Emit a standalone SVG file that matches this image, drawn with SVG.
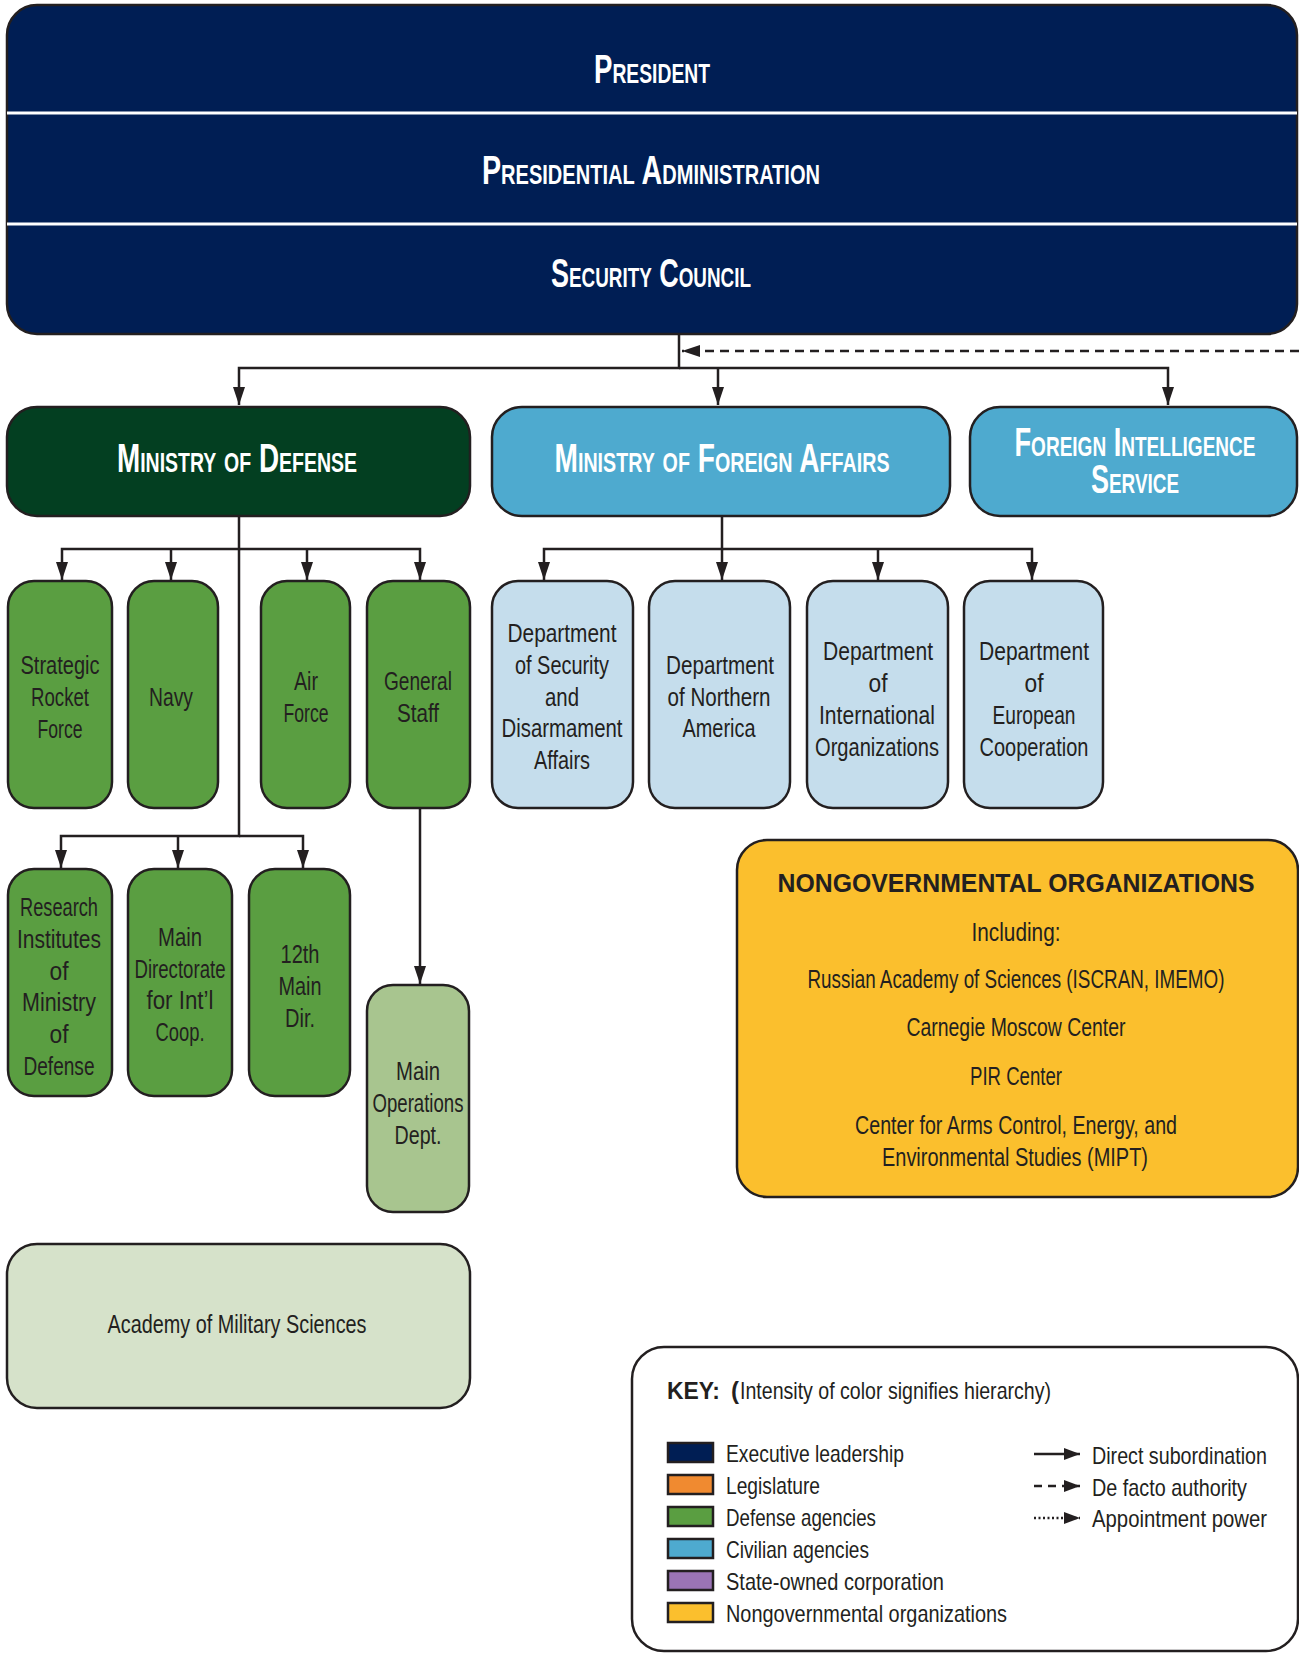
<svg xmlns="http://www.w3.org/2000/svg" width="1299" height="1653" viewBox="0 0 1299 1653">
<style>
.box{stroke:#231F20;stroke-width:2.5}
.exec{fill:#001E54}
.mod{fill:#033F21}
.civ{fill:#4EAACF}
.def{fill:#5A9E41}
.dept{fill:#C5DDEC}
.ops{fill:#A8C58F}
.acad{fill:#D6E2CA}
.ngo{fill:#FBBF2D}
.t{font-family:"Liberation Sans Narrow","Liberation Sans",Arial,sans-serif;font-size:25px;fill:#231F20;text-anchor:middle}
.k{font-family:"Liberation Sans Narrow","Liberation Sans",Arial,sans-serif;font-size:24px;fill:#231F20}
.kb{font-family:"Liberation Sans",Arial,sans-serif;font-size:24px;font-weight:bold;fill:#231F20}
.h{font-family:"Liberation Sans Narrow","Liberation Sans",Arial,sans-serif;font-weight:bold;font-size:40px;font-variant:small-caps;fill:#FFFFFF;text-anchor:middle}
.c{fill:none;stroke:#231F20;stroke-width:2.5}
.sw{stroke:#231F20;stroke-width:2.5}
</style>
<defs>
<marker id="arr" markerUnits="userSpaceOnUse" markerWidth="18" markerHeight="12" viewBox="0 0 18 12" refX="18" refY="6" orient="auto">
<path d="M0,0 L18,6 L0,12 z" fill="#231F20"/>
</marker>
<marker id="arrk" markerUnits="userSpaceOnUse" markerWidth="16" markerHeight="12" viewBox="0 0 16 12" refX="16" refY="6" orient="auto">
<path d="M0,0 L16,6 L0,12 z" fill="#231F20"/>
</marker>
</defs>

<g id="executive">
<rect class="box exec" x="7" y="5" width="1290" height="329" rx="30"/>
<line x1="7" y1="113" x2="1297" y2="113" stroke="#FFFFFF" stroke-width="3"/>
<line x1="7" y1="224" x2="1297" y2="224" stroke="#FFFFFF" stroke-width="3"/>
</g>
<g id="president">
<text class="h" x="652" y="83" textLength="116" lengthAdjust="spacingAndGlyphs">President</text>
</g>
<g id="presidential-administration">
<text class="h" x="651" y="184" textLength="338" lengthAdjust="spacingAndGlyphs">Presidential Administration</text>
</g>
<g id="security-council">
<text class="h" x="651" y="287" textLength="200" lengthAdjust="spacingAndGlyphs">Security Council</text>
</g>

<g id="connectors">
<path class="c" d="M679,334 V368 H239 V405" marker-end="url(#arr)"/>
<path class="c" d="M679,368 H1168 V405" marker-end="url(#arr)"/>
<path class="c" d="M718,368 V405" marker-end="url(#arr)"/>
<path class="c" d="M1299,351 H682" stroke-dasharray="9 6" marker-end="url(#arr)"/>
<path class="c" d="M239,516 V549 H62 V580" marker-end="url(#arr)"/>
<path class="c" d="M171,549 V580" marker-end="url(#arr)"/>
<path class="c" d="M239,549 H420 V580" marker-end="url(#arr)"/>
<path class="c" d="M307,549 V580" marker-end="url(#arr)"/>
<path class="c" d="M239,549 V836 H61 V868" marker-end="url(#arr)"/>
<path class="c" d="M239,836 H303 V868" marker-end="url(#arr)"/>
<path class="c" d="M178,836 V868" marker-end="url(#arr)"/>
<path class="c" d="M420,808 V984" marker-end="url(#arr)"/>
<path class="c" d="M722,516 V549 H544 V580" marker-end="url(#arr)"/>
<path class="c" d="M722,549 H1032 V580" marker-end="url(#arr)"/>
<path class="c" d="M722,549 V580" marker-end="url(#arr)"/>
<path class="c" d="M878,549 V580" marker-end="url(#arr)"/>
</g>

<g id="ministry-of-defense">
<rect class="box mod" x="7" y="407" width="463" height="109" rx="30"/>
<text class="h" x="237" y="472" textLength="240" lengthAdjust="spacingAndGlyphs">Ministry of Defense</text>
</g>
<g id="ministry-of-foreign-affairs">
<rect class="box civ" x="492" y="407" width="458" height="109" rx="30"/>
<text class="h" x="722" y="472" textLength="335" lengthAdjust="spacingAndGlyphs">Ministry of Foreign Affairs</text>
</g>
<g id="foreign-intelligence-service">
<rect class="box civ" x="970" y="407" width="327" height="109" rx="30"/>
<text class="h" x="1135" y="456" textLength="241" lengthAdjust="spacingAndGlyphs">Foreign Intelligence</text>
<text class="h" x="1135" y="493" textLength="88" lengthAdjust="spacingAndGlyphs">Service</text>
</g>

<g id="strategic-rocket-force">
<rect class="box def" x="8" y="581" width="104" height="227" rx="26"/>
<text class="t" x="60" y="674" textLength="79" lengthAdjust="spacingAndGlyphs">Strategic</text>
<text class="t" x="60" y="706" textLength="58" lengthAdjust="spacingAndGlyphs">Rocket</text>
<text class="t" x="60" y="738" textLength="45" lengthAdjust="spacingAndGlyphs">Force</text>
</g>
<g id="navy">
<rect class="box def" x="128" y="581" width="90" height="227" rx="26"/>
<text class="t" x="171" y="706" textLength="44" lengthAdjust="spacingAndGlyphs">Navy</text>
</g>
<g id="air-force">
<rect class="box def" x="261" y="581" width="89" height="227" rx="26"/>
<text class="t" x="306" y="690" textLength="24" lengthAdjust="spacingAndGlyphs">Air</text>
<text class="t" x="306" y="722" textLength="45" lengthAdjust="spacingAndGlyphs">Force</text>
</g>
<g id="general-staff">
<rect class="box def" x="367" y="581" width="103" height="227" rx="26"/>
<text class="t" x="418" y="690" textLength="68" lengthAdjust="spacingAndGlyphs">General</text>
<text class="t" x="418" y="722" textLength="42" lengthAdjust="spacingAndGlyphs">Staff</text>
</g>

<g id="dept-security-disarmament">
<rect class="box dept" x="492" y="581" width="141" height="227" rx="26"/>
<text class="t" x="562" y="642" textLength="109" lengthAdjust="spacingAndGlyphs">Department</text>
<text class="t" x="562" y="674" textLength="94" lengthAdjust="spacingAndGlyphs">of Security</text>
<text class="t" x="562" y="706" textLength="34" lengthAdjust="spacingAndGlyphs">and</text>
<text class="t" x="562" y="737" textLength="121" lengthAdjust="spacingAndGlyphs">Disarmament</text>
<text class="t" x="562" y="769" textLength="56" lengthAdjust="spacingAndGlyphs">Affairs</text>
</g>
<g id="dept-northern-america">
<rect class="box dept" x="649" y="581" width="141" height="227" rx="26"/>
<text class="t" x="720" y="674" textLength="108" lengthAdjust="spacingAndGlyphs">Department</text>
<text class="t" x="719" y="706" textLength="103" lengthAdjust="spacingAndGlyphs">of Northern</text>
<text class="t" x="719" y="737" textLength="73" lengthAdjust="spacingAndGlyphs">America</text>
</g>
<g id="dept-international-organizations">
<rect class="box dept" x="807" y="581" width="141" height="227" rx="26"/>
<text class="t" x="878" y="660" textLength="110" lengthAdjust="spacingAndGlyphs">Department</text>
<text class="t" x="878" y="692" textLength="19" lengthAdjust="spacingAndGlyphs">of</text>
<text class="t" x="877" y="724" textLength="116" lengthAdjust="spacingAndGlyphs">International</text>
<text class="t" x="877" y="756" textLength="124" lengthAdjust="spacingAndGlyphs">Organizations</text>
</g>
<g id="dept-european-cooperation">
<rect class="box dept" x="964" y="581" width="139" height="227" rx="26"/>
<text class="t" x="1034" y="660" textLength="110" lengthAdjust="spacingAndGlyphs">Department</text>
<text class="t" x="1034" y="692" textLength="19" lengthAdjust="spacingAndGlyphs">of</text>
<text class="t" x="1034" y="724" textLength="83" lengthAdjust="spacingAndGlyphs">European</text>
<text class="t" x="1034" y="756" textLength="109" lengthAdjust="spacingAndGlyphs">Cooperation</text>
</g>

<g id="research-institutes">
<rect class="box def" x="8" y="869" width="104" height="227" rx="26"/>
<text class="t" x="59" y="916" textLength="78" lengthAdjust="spacingAndGlyphs">Research</text>
<text class="t" x="59" y="948" textLength="84" lengthAdjust="spacingAndGlyphs">Institutes</text>
<text class="t" x="59" y="980" textLength="19" lengthAdjust="spacingAndGlyphs">of</text>
<text class="t" x="59" y="1011" textLength="74" lengthAdjust="spacingAndGlyphs">Ministry</text>
<text class="t" x="59" y="1043" textLength="19" lengthAdjust="spacingAndGlyphs">of</text>
<text class="t" x="59" y="1075" textLength="71" lengthAdjust="spacingAndGlyphs">Defense</text>
</g>
<g id="main-directorate-intl-coop">
<rect class="box def" x="128" y="869" width="104" height="227" rx="26"/>
<text class="t" x="180" y="946" textLength="44" lengthAdjust="spacingAndGlyphs">Main</text>
<text class="t" x="180" y="978" textLength="91" lengthAdjust="spacingAndGlyphs">Directorate</text>
<text class="t" x="180" y="1009" textLength="67" lengthAdjust="spacingAndGlyphs">for Int’l</text>
<text class="t" x="180" y="1041" textLength="49" lengthAdjust="spacingAndGlyphs">Coop.</text>
</g>
<g id="twelfth-main-dir">
<rect class="box def" x="249" y="869" width="101" height="227" rx="26"/>
<text class="t" x="300" y="963" textLength="39" lengthAdjust="spacingAndGlyphs">12th</text>
<text class="t" x="300" y="995" textLength="43" lengthAdjust="spacingAndGlyphs">Main</text>
<text class="t" x="300" y="1027" textLength="30" lengthAdjust="spacingAndGlyphs">Dir.</text>
</g>
<g id="main-operations-dept">
<rect class="box ops" x="367" y="985" width="102" height="227" rx="26"/>
<text class="t" x="418" y="1080" textLength="44" lengthAdjust="spacingAndGlyphs">Main</text>
<text class="t" x="418" y="1112" textLength="91" lengthAdjust="spacingAndGlyphs">Operations</text>
<text class="t" x="418" y="1144" textLength="47" lengthAdjust="spacingAndGlyphs">Dept.</text>
</g>
<g id="academy-military-sciences">
<rect class="box acad" x="7" y="1244" width="463" height="164" rx="30"/>
<text class="t" x="237" y="1333" textLength="259" lengthAdjust="spacingAndGlyphs">Academy of Military Sciences</text>
</g>

<g id="nongovernmental-organizations">
<rect class="box ngo" x="737" y="840" width="561" height="357" rx="30"/>
<text class="t" x="1016" y="892" font-weight="bold" style="font-family:'Liberation Sans',Arial,sans-serif" textLength="477" lengthAdjust="spacingAndGlyphs">NONGOVERNMENTAL ORGANIZATIONS</text>
<text class="t" x="1016" y="941" textLength="89" lengthAdjust="spacingAndGlyphs">Including:</text>
<text class="t" x="1016" y="988" textLength="417" lengthAdjust="spacingAndGlyphs">Russian Academy of Sciences (ISCRAN, IMEMO)</text>
<text class="t" x="1016" y="1036" textLength="219" lengthAdjust="spacingAndGlyphs">Carnegie Moscow Center</text>
<text class="t" x="1016" y="1085" textLength="92" lengthAdjust="spacingAndGlyphs">PIR Center</text>
<text class="t" x="1016" y="1134" textLength="322" lengthAdjust="spacingAndGlyphs">Center for Arms Control, Energy, and</text>
<text class="t" x="1015" y="1166" textLength="266" lengthAdjust="spacingAndGlyphs">Environmental Studies (MIPT)</text>
</g>

<g id="key">
<rect x="632" y="1347" width="666" height="304" rx="32" fill="#FFFFFF" stroke="#231F20" stroke-width="2.5"/>
<text class="kb" x="667" y="1399" textLength="53" lengthAdjust="spacingAndGlyphs">KEY:</text>
<text class="kb" x="731" y="1399">(</text>
<text class="k" x="740" y="1399" textLength="311" lengthAdjust="spacingAndGlyphs">Intensity of color signifies hierarchy)</text>
<rect class="sw" x="668" y="1443" width="45" height="19" fill="#001E54"/>
<rect class="sw" x="668" y="1475" width="45" height="19" fill="#F08A30"/>
<rect class="sw" x="668" y="1507" width="45" height="19" fill="#5A9E41"/>
<rect class="sw" x="668" y="1539" width="45" height="19" fill="#4EAACF"/>
<rect class="sw" x="668" y="1571" width="45" height="19" fill="#9B74B5"/>
<rect class="sw" x="668" y="1603" width="45" height="19" fill="#FBBF2D"/>
<text class="k" x="726" y="1462" textLength="178" lengthAdjust="spacingAndGlyphs">Executive leadership</text>
<text class="k" x="726" y="1494" textLength="94" lengthAdjust="spacingAndGlyphs">Legislature</text>
<text class="k" x="726" y="1526" textLength="150" lengthAdjust="spacingAndGlyphs">Defense agencies</text>
<text class="k" x="726" y="1558" textLength="143" lengthAdjust="spacingAndGlyphs">Civilian agencies</text>
<text class="k" x="726" y="1590" textLength="218" lengthAdjust="spacingAndGlyphs">State-owned corporation</text>
<text class="k" x="726" y="1622" textLength="281" lengthAdjust="spacingAndGlyphs">Nongovernmental organizations</text>
<path class="c" d="M1034,1454 H1080" marker-end="url(#arrk)"/>
<path class="c" d="M1034,1486 H1080" stroke-dasharray="8 6" marker-end="url(#arrk)"/>
<path class="c" d="M1034,1518 H1080" stroke-width="2" stroke-dasharray="2 2.5" marker-end="url(#arrk)"/>
<text class="k" x="1092" y="1464" textLength="175" lengthAdjust="spacingAndGlyphs">Direct subordination</text>
<text class="k" x="1092" y="1496" textLength="155" lengthAdjust="spacingAndGlyphs">De facto authority</text>
<text class="k" x="1092" y="1527" textLength="175" lengthAdjust="spacingAndGlyphs">Appointment power</text>
</g>
</svg>
